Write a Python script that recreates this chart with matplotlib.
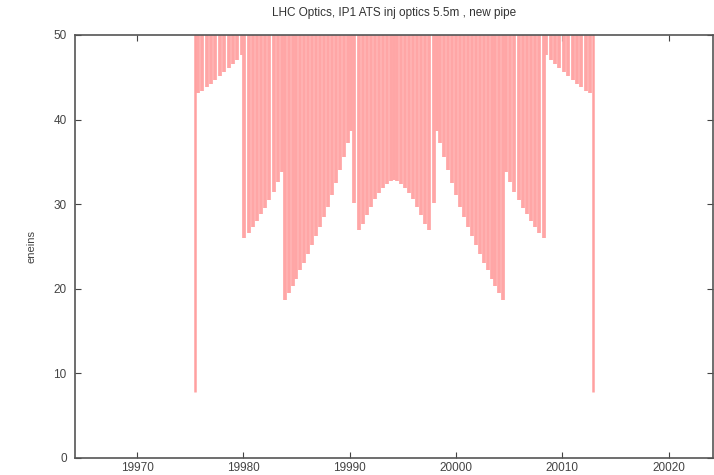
import numpy as np
import matplotlib
matplotlib.use('Agg')
import matplotlib.pyplot as plt

plt.rcParams['font.family'] = ['Liberation Sans', 'DejaVu Sans']

# IP1 position [m] and plotted window (+/- 30 m)
s_ip = 19994.16
half_window = 30.0

# aperture impulses: offset from IP1 [m] and value
offs_left = [-18.75,
             -18.43, -18.02, -17.61, -17.20, -16.79, -16.38, -15.97, -15.56, -15.15, -14.74, -14.33,
             -14.06, -13.67, -13.28, -12.89, -12.50, -12.11, -11.72, -11.33, -10.94, -10.54,
             -10.28, -9.91, -9.54, -9.17, -8.80, -8.43, -8.06, -7.69, -7.32, -6.95, -6.58, -6.21,
             -5.84, -5.47, -5.10, -4.73, -4.36, -4.05,
             -3.76,
             -3.29, -2.91, -2.53, -2.15, -1.77, -1.39, -1.01, -0.63, -0.25]
vals_left = [7.8,
             43.1, 43.4, 43.8, 44.2, 44.7, 45.1, 45.6, 46.1, 46.6, 47.1, 47.6,
             26.0, 26.6, 27.3, 28.0, 28.8, 29.6, 30.5, 31.5, 32.6, 33.8,
             18.7, 19.5, 20.3, 21.2, 22.2, 23.1, 24.1, 25.2, 26.2, 27.3, 28.5, 29.7,
             31.1, 32.5, 34.0, 35.6, 37.2, 38.6,
             30.1,
             27.0, 27.7, 28.7, 29.7, 30.6, 31.3, 31.9, 32.4, 32.8]
offs_mid = [0.0]
vals_mid = [32.9]
offs_right = [0.25, 0.63, 1.01, 1.39, 1.77, 2.15, 2.53, 2.91, 3.29,
              3.76,
              4.05, 4.36, 4.73, 5.10, 5.47, 5.84, 6.21, 6.58, 6.95, 7.32, 7.69, 8.06, 8.43, 8.80,
              9.17, 9.54, 9.91, 10.28,
              10.54, 10.94, 11.33, 11.72, 12.11, 12.50, 12.89, 13.28, 13.67, 14.06,
              14.33, 14.74, 15.15, 15.56, 15.97, 16.38, 16.79, 17.20, 17.61, 18.02, 18.43,
              18.75]
vals_right = [32.8, 32.4, 31.9, 31.3, 30.6, 29.7, 28.7, 27.7, 27.0,
              30.1,
              38.6, 37.2, 35.6, 34.0, 32.5, 31.1, 29.7, 28.5, 27.3, 26.2, 25.2, 24.1, 23.1, 22.2,
              21.2, 20.3, 19.5, 18.7,
              33.8, 32.6, 31.5, 30.5, 29.6, 28.8, 28.0, 27.3, 26.6, 26.0,
              47.6, 47.1, 46.6, 46.1, 45.6, 45.1, 44.7, 44.2, 43.8, 43.4, 43.1,
              7.8]

xticks = [19970, 19980, 19990, 20000, 20010, 20020]
yticks = [0, 10, 20, 30, 40, 50]

s_all = s_ip + np.array(offs_left + offs_mid + offs_right)
v_all = np.array(vals_left + vals_mid + vals_right)
singles = np.abs(np.abs(s_all - s_ip) - 18.75) < 0.01

fig = plt.figure(figsize=(7.14, 4.75), dpi=100)
ax = fig.add_axes([75 / 714, 1 - 458 / 475, 638 / 714, 423 / 475])

ymax = 50
# impulses hang from the top of the frame down to the value
ax.vlines(s_all[~singles], v_all[~singles], ymax + 5, color='#ffa6a6', lw=2.7)
ax.vlines(s_all[singles], v_all[singles], ymax + 5, color='#ffa0a0', lw=1.8)

ax.set_xlim(s_ip - half_window, s_ip + half_window)
ax.set_ylim(0, ymax)
ax.set_xticks(xticks)
ax.set_yticks(yticks)
ax.tick_params(direction='in', length=4, width=0.8, colors='#444444',
               labelsize=8.5, top=True, right=True)
ax.tick_params(axis='x', pad=3)
ax.tick_params(axis='y', pad=6)
for sp in ax.spines.values():
    sp.set_color('#555555')
    sp.set_linewidth(1.2)

ax.set_ylabel('eneins', fontsize=8, color='#444444', labelpad=12)
ax.set_title('LHC Optics, IP1 ATS inj optics 5.5m , new pipe', fontsize=8.5,
             color='#333333', pad=14)

fig.savefig('out.png', dpi=100)
